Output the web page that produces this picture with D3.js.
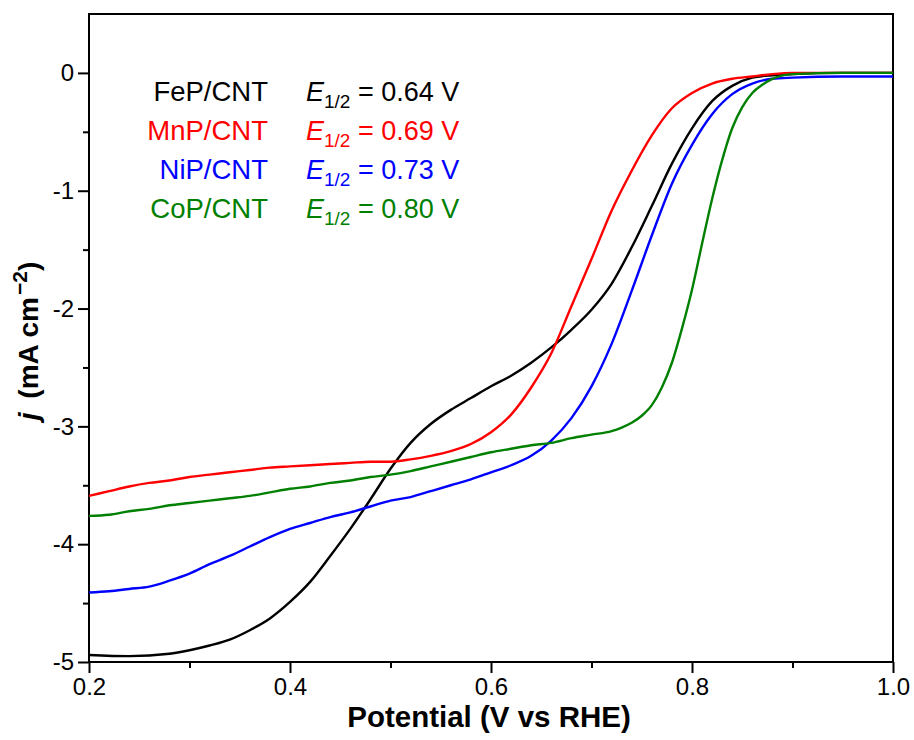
<!DOCTYPE html>
<html lang="en">
<head>
  <meta charset="UTF-8">
  <title>LSV curves</title>
  <style>
    body { margin: 0; background: #fff; }
    svg { display: block; font-family: "Liberation Sans", Arial, sans-serif; }
    .axis path { stroke: #000; stroke-width: 2px; }
    .axis line { stroke: #000; stroke-width: 2px; }
    .axis text { font-size: 24px; fill: #000; }
  </style>
</head>
<body>
  <svg id="chart" width="914" height="740"></svg>

  <script src="https://d3js.org/d3.v7.min.js"></script>
  <script>
    // potential (V vs RHE) and current density (mA cm-2)
    const fepX = [0.20, 0.24, 0.28, 0.30, 0.32, 0.34, 0.36, 0.38, 0.40, 0.42, 0.44, 0.46, 0.48, 0.50, 0.52, 0.54, 0.56, 0.58, 0.60, 0.62, 0.64, 0.66, 0.68, 0.70, 0.72, 0.74, 0.76, 0.78, 0.80, 0.82, 0.84, 0.86, 0.88, 0.90, 0.95, 1.00];
    const fepY = [-4.94, -4.95, -4.93, -4.90, -4.86, -4.81, -4.73, -4.63, -4.49, -4.32, -4.10, -3.87, -3.62, -3.36, -3.14, -2.98, -2.86, -2.76, -2.66, -2.57, -2.46, -2.33, -2.18, -2.01, -1.79, -1.48, -1.13, -0.77, -0.47, -0.24, -0.11, -0.04, -0.02, -0.01, 0.0, 0.0];

    const mnpX = [0.20, 0.22, 0.24, 0.26, 0.28, 0.30, 0.32, 0.34, 0.36, 0.38, 0.40, 0.42, 0.44, 0.46, 0.48, 0.50, 0.52, 0.54, 0.56, 0.58, 0.60, 0.62, 0.64, 0.66, 0.68, 0.70, 0.72, 0.74, 0.76, 0.78, 0.80, 0.82, 0.84, 0.86, 0.88, 0.90, 1.00];
    const mnpY = [-3.59, -3.55, -3.51, -3.48, -3.46, -3.43, -3.41, -3.39, -3.37, -3.35, -3.34, -3.33, -3.32, -3.31, -3.30, -3.30, -3.28, -3.25, -3.21, -3.15, -3.05, -2.90, -2.67, -2.38, -1.98, -1.58, -1.17, -0.83, -0.53, -0.30, -0.17, -0.09, -0.05, -0.03, -0.01, 0.0, 0.0];

    const nipX = [0.20, 0.22, 0.24, 0.26, 0.28, 0.30, 0.32, 0.34, 0.36, 0.38, 0.40, 0.42, 0.44, 0.46, 0.48, 0.50, 0.52, 0.54, 0.56, 0.58, 0.60, 0.62, 0.64, 0.66, 0.68, 0.70, 0.72, 0.74, 0.76, 0.78, 0.80, 0.82, 0.84, 0.86, 0.88, 0.90, 0.95, 1.00];
    const nipY = [-4.41, -4.40, -4.38, -4.36, -4.31, -4.25, -4.17, -4.10, -4.02, -3.94, -3.87, -3.82, -3.77, -3.73, -3.68, -3.63, -3.60, -3.55, -3.50, -3.45, -3.39, -3.33, -3.25, -3.12, -2.93, -2.66, -2.30, -1.85, -1.38, -0.94, -0.61, -0.35, -0.18, -0.09, -0.05, -0.04, -0.03, -0.03];

    const copX = [0.20, 0.22, 0.24, 0.26, 0.28, 0.30, 0.32, 0.34, 0.36, 0.38, 0.40, 0.42, 0.44, 0.46, 0.48, 0.50, 0.52, 0.54, 0.56, 0.58, 0.60, 0.62, 0.64, 0.66, 0.68, 0.70, 0.72, 0.73, 0.74, 0.75, 0.76, 0.77, 0.78, 0.79, 0.80, 0.81, 0.82, 0.83, 0.84, 0.85, 0.86, 0.87, 0.88, 0.90, 0.95, 1.00];
    const copY = [-3.76, -3.75, -3.72, -3.70, -3.67, -3.65, -3.63, -3.61, -3.59, -3.56, -3.53, -3.51, -3.48, -3.46, -3.43, -3.41, -3.38, -3.34, -3.30, -3.26, -3.22, -3.19, -3.16, -3.14, -3.10, -3.07, -3.04, -3.01, -2.97, -2.91, -2.82, -2.67, -2.46, -2.17, -1.84, -1.45, -1.07, -0.74, -0.47, -0.29, -0.17, -0.10, -0.05, -0.01, 0.0, 0.0];

    const seriesNames = ["FeP/CNT", "MnP/CNT", "NiP/CNT", "CoP/CNT"];
    const halfWave = ["0.64", "0.69", "0.73", "0.80"];
    const colors = ["#000000", "#ff0000", "#0000ff", "#008000"];

    const xTicks = [0.2, 0.4, 0.6, 0.8, 1.0];
    const xMinor = [0.3, 0.5, 0.7, 0.9];
    const yTicks = [0, -1, -2, -3, -4, -5];
    const yMinor = [-0.5, -1.5, -2.5, -3.5, -4.5];

    const margin = { top: 14, left: 89, right: 21, bottom: 78 };
    const width = 914 - margin.left - margin.right;
    const height = 740 - margin.top - margin.bottom;

    const svg = d3.select("#chart");
    const g = svg.append("g").attr("transform", `translate(${margin.left},${margin.top})`);

    const x = d3.scaleLinear().domain([0.2, 1.0]).range([0, width]);
    const y = d3.scaleLinear().domain([-5, 0.5]).range([height, 0]);

    // minor ticks
    g.append("g").attr("class", "axis")
      .attr("transform", `translate(0,${height})`)
      .call(d3.axisBottom(x).tickValues(xMinor).tickSize(6).tickFormat(""))
      .call(a => a.select(".domain").remove());
    g.append("g").attr("class", "axis")
      .call(d3.axisLeft(y).tickValues(yMinor).tickSize(6).tickFormat(""))
      .call(a => a.select(".domain").remove());

    // major ticks
    g.append("g").attr("class", "axis")
      .attr("transform", `translate(0,${height})`)
      .call(d3.axisBottom(x).tickValues(xTicks).tickSize(11).tickPadding(5).tickFormat(d3.format(".1f")))
      .call(a => a.select(".domain").remove());
    g.append("g").attr("class", "axis")
      .call(d3.axisLeft(y).tickValues(yTicks).tickSize(11).tickPadding(4).tickFormat(d => d === 0 ? "0" : "-" + Math.abs(d)))
      .call(a => a.select(".domain").remove());

    // frame
    g.append("rect")
      .attr("width", width).attr("height", height)
      .attr("fill", "none").attr("stroke", "#000").attr("stroke-width", 2);

    const line = d3.line()
      .x(d => x(d[0]))
      .y(d => y(d[1]))
      .curve(d3.curveMonotoneX);

    const series = [[fepX, fepY], [mnpX, mnpY], [nipX, nipY], [copX, copY]];
    series.forEach((s, i) => {
      const pts = s[0].map((v, k) => [v, s[1][k]]);
      g.append("path")
        .datum(pts)
        .attr("fill", "none")
        .attr("stroke", colors[i])
        .attr("stroke-width", 2.4)
        .attr("stroke-linejoin", "round")
        .attr("d", line);
    });

    // legend text
    seriesNames.forEach((name, i) => {
      const by = 101 + i * 39;
      svg.append("text")
        .attr("x", 268).attr("y", by)
        .attr("text-anchor", "end")
        .attr("font-size", 27.5)
        .attr("fill", colors[i])
        .text(name);

      const t = svg.append("text")
        .attr("x", 306).attr("y", by)
        .attr("font-size", 27)
        .attr("fill", colors[i]);
      t.append("tspan").attr("font-style", "italic").text("E");
      t.append("tspan").attr("font-size", 19).attr("dy", 7).text("1/2");
      t.append("tspan").attr("dy", -7).text(` = ${halfWave[i]} V`);
    });

    // axis titles
    svg.append("text")
      .attr("x", margin.left + width / 2 - 2)
      .attr("y", 727)
      .attr("text-anchor", "middle")
      .attr("font-size", 29.5)
      .attr("font-weight", "bold")
      .text("Potential (V vs RHE)");

    const yt = svg.append("text")
      .attr("transform", `translate(38,341) rotate(-90)`)
      .attr("text-anchor", "middle")
      .attr("font-size", 28)
      .attr("font-weight", "bold");
    yt.append("tspan").attr("font-style", "italic").text("j");
    yt.append("tspan").attr("dx", 6).text(" (mA cm");
    yt.append("tspan").attr("font-size", 21).attr("dx", 2).attr("dy", -11).text("\u22122");
    yt.append("tspan").attr("dy", 11).text(")");
  </script>
</body>
</html>
